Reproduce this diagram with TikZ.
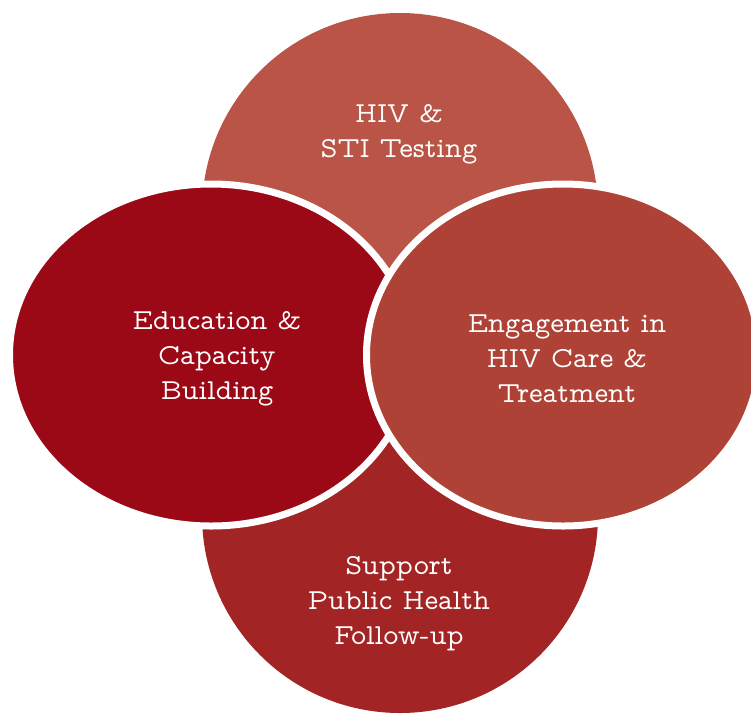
\documentclass[tikz,border=0pt]{standalone}
\usepackage{fontspec}
\usetikzlibrary{shapes.geometric}
\newfontfamily\tw{lmmonoprop10-regular.otf}
\definecolor{ctop}{RGB}{185,84,70}
\definecolor{cleft}{RGB}{155,8,22}
\definecolor{cright}{RGB}{174,66,54}
\definecolor{cbot}{RGB}{163,36,36}
\tikzset{
  lbl/.style={text=white, font=\tw\fontsize{29}{35}\selectfont, align=center, inner sep=0pt},
  disc/.style={circle, inner sep=0pt, minimum size=396pt},
  oval/.style={ellipse, inner sep=0pt, draw=white, line width=7pt}
}
\begin{document}
\begin{tikzpicture}[x=1pt,y=-1pt]
\useasboundingbox (0,0) rectangle (751,716);
\clip (0,0) rectangle (751,716);
\node[disc, fill=ctop] (top) at (400,211) {};
\node[disc, fill=cbot] (bot) at (400,515) {};
\node[oval, fill=cleft, minimum width=403pt, minimum height=342pt] (left) at (211,355) {};
\node[oval, fill=cright, minimum width=393pt, minimum height=342pt] (right) at (563,355) {};
\node[lbl] (ttop) at (399,134) {HIV \&\\STI Testing};
\node[lbl] (tleft) at (217,359) {Education \&\\Capacity\\Building};
\node[lbl] (tright) at (567,359) {Engagement in\\HIV Care \&\\Treatment};
\node[lbl] (tbot) at (399,604) {Support\\Public Health\\Follow-up};
\end{tikzpicture}
\end{document}
